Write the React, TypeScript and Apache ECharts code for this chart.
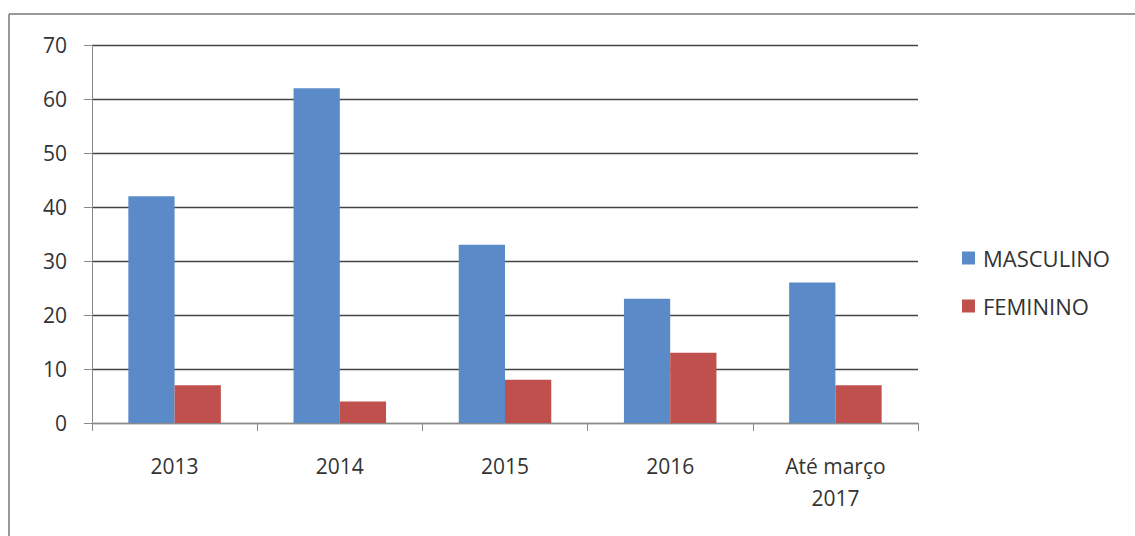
import React, { useEffect, useRef } from "react";
import * as echarts from "echarts";

const categories = ["2013", "2014", "2015", "2016", "Até março\n2017"];
const masculino = [42, 62, 33, 23, 26];
const feminino = [7, 4, 8, 13, 7];
const seriesNames = ["MASCULINO", "FEMININO"];
const yTicks = { min: 0, max: 70, interval: 10 };

export default function App() {
  const ref = useRef<HTMLDivElement>(null);
  useEffect(() => {
    if (!ref.current) return;
    const chart = echarts.init(ref.current, null, { renderer: "svg" });
    const font = "'Open Sans', 'Noto Sans', sans-serif";
    chart.setOption({
      animation: false,
      backgroundColor: "#ffffff",
      grid: { left: 92, right: 217, top: 45, bottom: 113, containLabel: false },
      legend: {
        orient: "vertical",
        left: 962,
        top: 247,
        padding: 0,
        itemWidth: 13,
        itemHeight: 13,
        itemGap: 26,
        icon: "rect",
        data: seriesNames,
        textStyle: { fontFamily: font, fontSize: 22, color: "#333333", padding: [0, 0, 0, 3] },
      },
      xAxis: {
        type: "category",
        data: categories,
        axisLine: { lineStyle: { color: "#8a8a8a", width: 1 } },
        axisTick: { show: true, alignWithLabel: false, length: 8, lineStyle: { color: "#8a8a8a" } },
        axisLabel: {
          fontFamily: font,
          fontSize: 21,
          color: "#333333",
          margin: 27,
          lineHeight: 32,
          interval: 0,
        },
      },
      yAxis: {
        type: "value",
        min: yTicks.min,
        max: yTicks.max,
        interval: yTicks.interval,
        axisLine: { show: true, lineStyle: { color: "#8a8a8a", width: 1 } },
        axisTick: { show: true, length: 8, inside: false, lineStyle: { color: "#8a8a8a" } },
        splitLine: { show: true, lineStyle: { color: "#444444", width: 1.3 } },
        axisLabel: { fontFamily: font, fontSize: 21, color: "#333333", margin: 25 },
      },
      series: [
        {
          name: seriesNames[0],
          type: "bar",
          data: masculino,
          barGap: "0%",
          barCategoryGap: "44%",
          itemStyle: { color: "#5a8ac8" },
        },
        {
          name: seriesNames[1],
          type: "bar",
          data: feminino,
          barGap: "0%",
          barCategoryGap: "44%",
          itemStyle: { color: "#c0504d" },
        },
      ],
      graphic: [
        {
          type: "line",
          shape: { x1: 9, y1: 14, x2: 9, y2: 536 },
          style: { stroke: "#777777", lineWidth: 1.5 },
        },
        {
          type: "line",
          shape: { x1: 9, y1: 14, x2: 1135, y2: 14 },
          style: { stroke: "#777777", lineWidth: 1.5 },
        },
      ],
    });
    return () => chart.dispose();
  }, []);
  return (
    <div
      ref={ref}
      style={{ position: "fixed", left: 0, top: 0, width: 1135, height: 536 }}
    />
  );
}
